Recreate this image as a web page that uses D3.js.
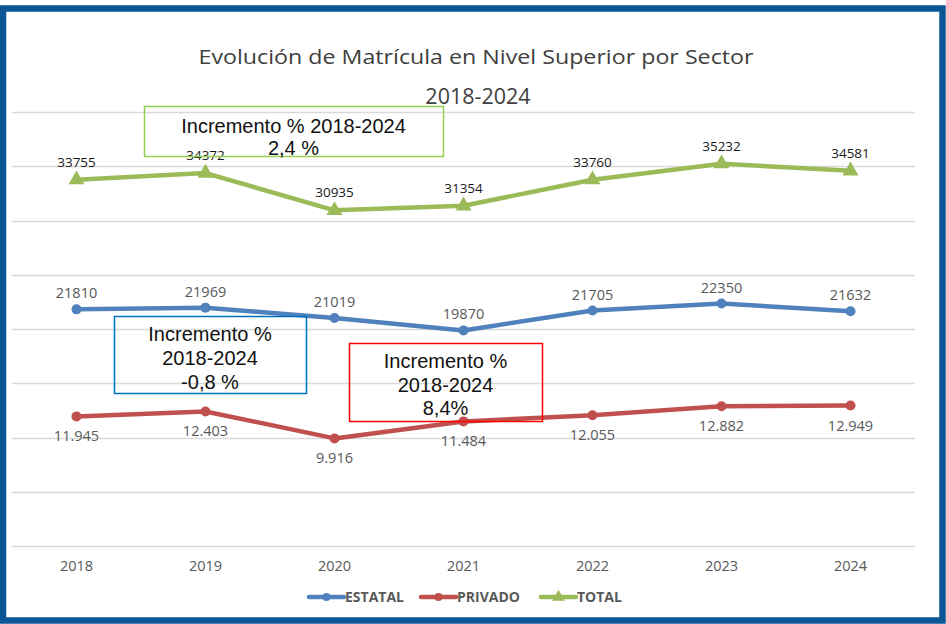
<!DOCTYPE html>
<html>
<head>
<meta charset="utf-8">
<script src="https://cdn.jsdelivr.net/npm/d3@7/dist/d3.min.js"></script>
<style>
  body { margin: 0; background: #ffffff; }
  svg { display: block; }
</style>
</head>
<body>
<div id="chart"></div>
<script>
// datos del grafico
var years = ["2018", "2019", "2020", "2021", "2022", "2023", "2024"];
var estatal = [21810, 21969, 21019, 19870, 21705, 22350, 21632];
var privado = [11945, 12403, 9916, 11484, 12055, 12882, 12949];
var total = [33755, 34372, 30935, 31354, 33760, 35232, 34581];
var seriesNames = ["ESTATAL", "PRIVADO", "TOTAL"];
var yTicks = [0, 5000, 10000, 15000, 20000, 25000, 30000, 35000, 40000];

var W = 946, H = 624;
var plot = { "left": 12, "right": 915, "top": 112, "bottom": 546 };

var colors = { "ESTATAL": "#4f81bd", "PRIVADO": "#c0504d", "TOTAL": "#9bbb59" };

window.onload = function() {

  var svg = d3.select("#chart")
    .append("svg")
    .attr("width", W)
    .attr("height", H);

  // fondo y marco azul
  svg.append("rect").attr("width", W).attr("height", H).attr("fill", "#fff");
  svg.append("rect")
    .attr("x", 3).attr("y", 8.5)
    .attr("width", W - 6.5).attr("height", H - 12)
    .attr("fill", "none")
    .attr("stroke", "#0b5694")
    .attr("stroke-width", 6.5);

  var x = d3.scaleBand().domain(years).range([plot.left, plot.right]);
  var y = d3.scaleLinear().domain([0, 40000]).range([plot.bottom, plot.top]);
  var cx = function(i) { return x(years[i]) + x.bandwidth() / 2; };

  // lineas de la cuadricula
  svg.append("g")
    .selectAll("line")
    .data(yTicks)
    .enter().append("line")
    .attr("x1", plot.left).attr("x2", plot.right)
    .attr("y1", function(d) { return Math.round(y(d)) + 0.5; })
    .attr("y2", function(d) { return Math.round(y(d)) + 0.5; })
    .attr("stroke", "#d9d9d9")
    .attr("stroke-width", 1.5);

  // eje x
  var xAxis = svg.append("g")
    .attr("transform", "translate(0," + plot.bottom + ")")
    .call(d3.axisBottom(x).tickSize(0).tickPadding(15));
  xAxis.select(".domain").remove();
  xAxis.selectAll("text")
    .attr("font-family", "Open Sans, sans-serif")
    .attr("font-size", 14.5)
    .attr("fill", "#595959");

  // titulo
  svg.append("text")
    .attr("x", 476).attr("y", 64)
    .attr("text-anchor", "middle")
    .attr("font-family", "Open Sans, sans-serif")
    .attr("font-size", 20)
    .attr("fill", "#404040")
    .attr("textLength", 555)
    .attr("lengthAdjust", "spacingAndGlyphs")
    .text("Evolución de Matrícula en Nivel Superior por Sector");
  svg.append("text")
    .attr("x", 478).attr("y", 104)
    .attr("text-anchor", "middle")
    .attr("font-family", "Open Sans, sans-serif")
    .attr("font-size", 21.5)
    .attr("fill", "#404040")
    .text("2018-2024");

  var line = d3.line()
    .x(function(d, i) { return cx(i); })
    .y(function(d) { return y(d); });

  var data = { "ESTATAL": estatal, "PRIVADO": privado, "TOTAL": total };

  seriesNames.forEach(function(name) {
    svg.append("path")
      .datum(data[name])
      .attr("d", line)
      .attr("fill", "none")
      .attr("stroke", colors[name])
      .attr("stroke-width", 4.5)
      .attr("stroke-linejoin", "round");

    var g = svg.append("g");
    if (name === "TOTAL") {
      g.selectAll("path")
        .data(data[name])
        .enter().append("path")
        .attr("d", d3.symbol().type(d3.symbolTriangle).size(110))
        .attr("transform", function(d, i) { return "translate(" + cx(i) + "," + y(d) + ")"; })
        .attr("fill", colors[name]);
    } else {
      g.selectAll("circle")
        .data(data[name])
        .enter().append("circle")
        .attr("cx", function(d, i) { return cx(i); })
        .attr("cy", function(d) { return y(d); })
        .attr("r", 5)
        .attr("fill", colors[name]);
    }
  });

  // etiquetas de datos
  var fmtDot = function(v) { return d3.format(",")(v).replace(/,/g, "."); };

  svg.append("g").selectAll("text")
    .data(total)
    .enter().append("text")
    .attr("x", function(d, i) { return cx(i); })
    .attr("y", function(d) { return y(d) - 13; })
    .attr("text-anchor", "middle")
    .attr("font-family", "Open Sans, sans-serif")
    .attr("font-size", 13.5)
    .attr("fill", "#1a1a1a")
    .text(function(d) { return d; });

  svg.append("g").selectAll("text")
    .data(estatal)
    .enter().append("text")
    .attr("x", function(d, i) { return cx(i); })
    .attr("y", function(d) { return y(d) - 11; })
    .attr("text-anchor", "middle")
    .attr("font-family", "Open Sans, sans-serif")
    .attr("font-size", 14.5)
    .attr("fill", "#595959")
    .text(function(d) { return d; });

  svg.append("g").selectAll("text")
    .data(privado)
    .enter().append("text")
    .attr("x", function(d, i) { return cx(i); })
    .attr("y", function(d) { return y(d) + 25; })
    .attr("text-anchor", "middle")
    .attr("font-family", "Open Sans, sans-serif")
    .attr("font-size", 14.5)
    .attr("fill", "#595959")
    .text(function(d) { return fmtDot(d); });

  // cuadros de incremento
  var boxes = [
    { x: 144, y: 106, w: 299, h: 50, color: "#92d050", lines: ["Incremento % 2018-2024", "2,4 %"], ty: [133, 155] },
    { x: 114, y: 316, w: 192, h: 77, color: "#0070c0", lines: ["Incremento %", "2018-2024", "-0,8 %"], ty: [341, 365, 389] },
    { x: 349, y: 343, w: 193, h: 78, color: "#ff0000", lines: ["Incremento %", "2018-2024", "8,4%"], ty: [368, 392, 415] }
  ];
  boxes.forEach(function(b) {
    svg.append("rect")
      .attr("x", b.x + 0.5).attr("y", b.y + 0.5)
      .attr("width", b.w).attr("height", b.h)
      .attr("fill", "none")
      .attr("stroke", b.color)
      .attr("stroke-width", 1.5);
    b.lines.forEach(function(t, k) {
      svg.append("text")
        .attr("x", b.x + b.w / 2).attr("y", b.ty[k])
        .attr("text-anchor", "middle")
        .attr("font-family", "Liberation Sans, Arial, sans-serif")
        .attr("font-size", 20)
        .attr("fill", "#111")
        .text(t);
    });
  });

  // leyenda
  var legendX = [309, 421, 541];
  var legend = svg.append("g").attr("transform", "translate(0,597)");
  seriesNames.forEach(function(name, i) {
    var lx = legendX[i];
    legend.append("line")
      .attr("x1", lx).attr("x2", lx + 35)
      .attr("y1", 0).attr("y2", 0)
      .attr("stroke", colors[name])
      .attr("stroke-width", 4.5)
      .attr("stroke-linecap", "round");
    if (name === "TOTAL") {
      legend.append("path")
        .attr("d", d3.symbol().type(d3.symbolTriangle).size(70))
        .attr("transform", "translate(" + (lx + 17.5) + ",0)")
        .attr("fill", colors[name]);
    } else {
      legend.append("circle")
        .attr("cx", lx + 17.5).attr("cy", 0).attr("r", 4)
        .attr("fill", colors[name]);
    }
    legend.append("text")
      .attr("x", lx + 36).attr("y", 5)
      .attr("font-family", "Open Sans, sans-serif")
      .attr("font-size", 14)
      .attr("font-weight", "bold")
      .attr("fill", "#595959")
      .text(name);
  });
};
</script>
</body>
</html>
